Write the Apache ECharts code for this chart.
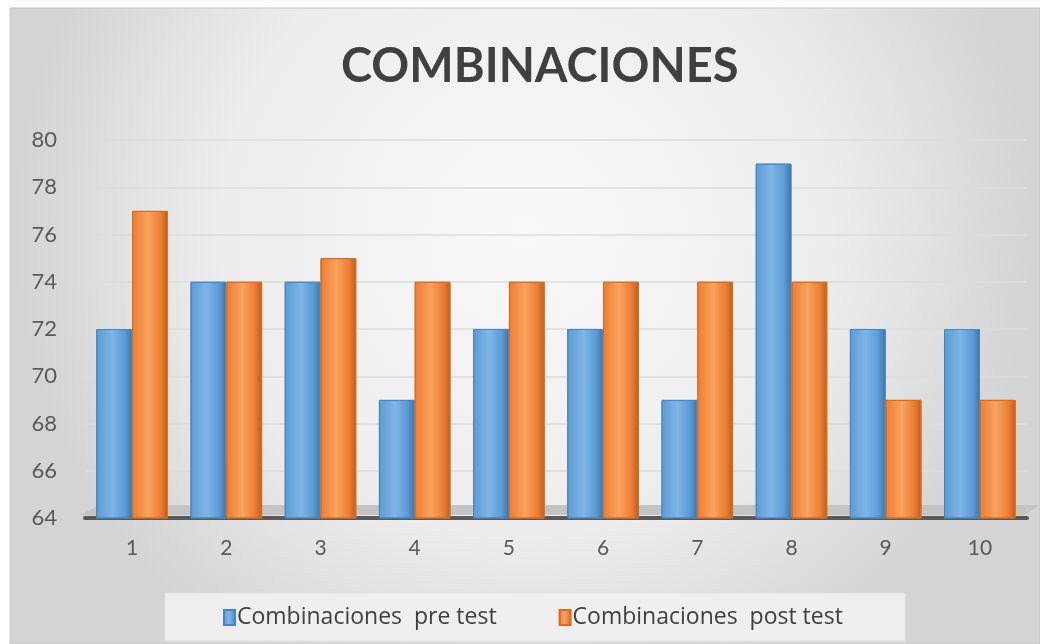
<!DOCTYPE html>
<html>
<head>
<meta charset="utf-8">
<script src="https://cdn.jsdelivr.net/npm/echarts@6/dist/echarts.min.js"></script>
<style>
  html, body { margin: 0; padding: 0; background: #ffffff; }
  #chart { width: 1040px; height: 644px; }
</style>
</head>
<body>
<div id="chart"></div>
<script>
  // datos
  var categorias = ['1', '2', '3', '4', '5', '6', '7', '8', '9', '10'];
  var preTest = [72, 74, 74, 69, 72, 72, 69, 79, 72, 72];
  var postTest = [77, 74, 75, 74, 74, 74, 74, 74, 69, 69];
  var nombres = ['Combinaciones  pre test', 'Combinaciones  post test'];

  var chart = echarts.init(document.getElementById('chart'));

  function barGrad(light, mid, dark) {
    return new echarts.graphic.LinearGradient(0, 0, 1, 0, [
      {offset: 0, color: mid},
      {offset: 0.45, color: light},
      {offset: 0.8, color: mid},
      {offset: 1, color: dark}
    ]);
  }

  var option = {
    backgroundColor: 'transparent',
    textStyle: {fontFamily: 'Lato, "Open Sans", sans-serif'},
    graphic: [
      {
        type: 'rect',
        z: -10,
        shape: {x: 10, y: 8, width: 1030, height: 636},
        style: {
          fill: new echarts.graphic.RadialGradient(0.5, 0.35, 0.8, [
            {offset: 0, color: '#f9f9f9'},
            {offset: 0.6, color: '#ededed'},
            {offset: 1, color: '#d4d4d4'}
          ]),
          stroke: '#c8c8c8',
          lineWidth: 1
        }
      },
      {
        type: 'rect',
        z: -9,
        shape: {x: 165, y: 593, width: 740, height: 48},
        style: {fill: '#efefef', stroke: '#e2e2e2'}
      },
      {
        type: 'polygon',
        z: -8,
        shape: {points: [[80, 515], [100, 505], [1040, 505], [1025, 515]]},
        style: {fill: '#c4c4c4'}
      }
    ],
    title: {
      text: 'COMBINACIONES',
      left: 336,
      top: 38,
      textStyle: {
        fontSize: 47,
        fontWeight: 'bold',
        color: '#404040',
        fontFamily: 'Lato, "Open Sans", sans-serif'
      }
    },
    legend: {
      data: nombres,
      bottom: 10,
      left: 218,
      itemWidth: 11,
      itemHeight: 15,
      itemGap: 62,
      icon: 'rect',
      textStyle: {
        fontSize: 23,
        color: '#404040',
        fontFamily: '"Open Sans", sans-serif',
        padding: [0, 0, 0, -3]
      }
    },
    grid: {left: 85, right: 13, top: 140, bottom: 126, containLabel: false},
    xAxis: {
      type: 'category',
      data: categorias,
      axisLine: {lineStyle: {color: '#595959', width: 4}},
      axisTick: {show: false},
      axisLabel: {fontSize: 21, color: '#595959', margin: 20}
    },
    yAxis: {
      type: 'value',
      min: 64,
      max: 80,
      interval: 2,
      axisLine: {show: false},
      axisTick: {show: false},
      axisLabel: {fontSize: 22, color: '#595959', margin: 28},
      splitLine: {lineStyle: {color: '#dcdcdc', width: 1.5}}
    },
    series: [
      {
        name: nombres[0],
        type: 'bar',
        data: preTest,
        barGap: '0%',
        barCategoryGap: '24%',
        itemStyle: {
          color: barGrad('#7fb5e6', '#5b9bd5', '#3e74a8'),
          borderColor: '#4a85bd',
          borderWidth: 1
        }
      },
      {
        name: nombres[1],
        type: 'bar',
        data: postTest,
        itemStyle: {
          color: barGrad('#f8a35f', '#ed7d31', '#b85e1f'),
          borderColor: '#d46d25',
          borderWidth: 1
        }
      }
    ]
  };

  chart.setOption(option);
  window.addEventListener('resize', function () {
    chart.resize();
  });
</script>
</body>
</html>
